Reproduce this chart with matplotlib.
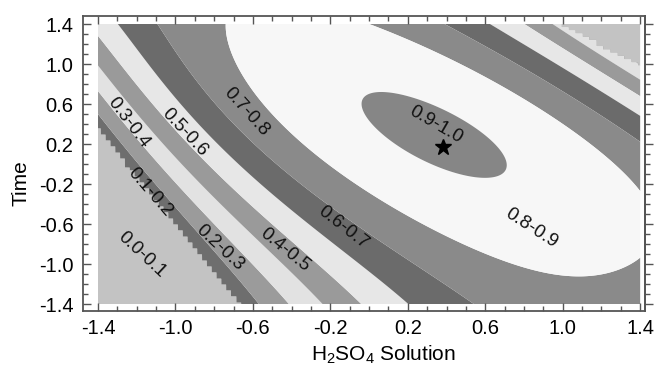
import numpy as np
import matplotlib
matplotlib.use("Agg")
import matplotlib.pyplot as plt

plt.rcParams['font.family'] = ['Liberation Sans', 'DejaVu Sans']
plt.rcParams['mathtext.default'] = 'regular'

# ---------------- data ----------------
levels = [0.0, 0.1, 0.2, 0.3, 0.4, 0.5, 0.6, 0.7, 0.8, 0.9, 1.0]
band_names = ["0.0-0.1", "0.1-0.2", "0.2-0.3", "0.3-0.4", "0.4-0.5",
              "0.5-0.6", "0.6-0.7", "0.7-0.8", "0.8-0.9", "0.9-1.0"]
band_colors = ["#c3c3c3", "#6e6e6e", "#9b9b9b", "#e2e2e2", "#9a9a9a",
               "#e7e7e7", "#6b6b6b", "#8a8a8a", "#f7f7f7", "#868686"]
tick_values = [-1.4, -1.0, -0.6, -0.2, 0.2, 0.6, 1.0, 1.4]
tick_labels = ["-1.4", "-1.0", "-0.6", "-0.2", "0.2", "0.6", "1.0", "1.4"]

# points on the band boundaries (x = H2SO4 solution, y = time)
c090_x = [0.088, 0.206, 0.294, 0.434, 0.552, 0.656, 0.697, 0.692, 0.640, 0.552, 0.434, 0.294, 0.155, 0.051, 0.041]
c090_y = [0.66, 0.67, 0.64, 0.54, 0.37, 0.17, -0.03, -0.16, -0.21, -0.16, -0.03, 0.14, 0.31, 0.47, 0.59]
c080_x = [-0.734, -0.703, -0.641, -0.553, -0.450, -0.357, -0.150, 0.057, 0.263, 0.470, 0.676, 0.883, 1.090, 1.270, 1.40,
          0.088, 0.294, 0.552, 0.811, 1.069, 1.276, 1.348, 1.40]
c080_y = [1.40, 1.14, 0.87, 0.64, 0.39, 0.16, -0.06, -0.28, -0.51, -0.74, -0.94, -1.08, -1.15, -1.12, -1.04,
          1.40, 1.24, 0.97, 0.64, 0.31, 0.04, -0.16, -0.46]
c070_x = [-1.069, -0.966, -0.847, -0.692, -0.537, -0.357, -0.093, 0.160, 0.418, 0.692, 0.382, 0.75, 1.10, 1.40]
c070_y = [1.40, 1.01, 0.64, 0.34, 0.07, -0.21, -0.53, -0.81, -1.08, -1.40, 1.40, 0.98, 0.55, 0.14]
c060_x = [-1.276, -1.08, -0.878, -0.677, -0.357, -0.124, 0.057, 0.578, 1.0, 1.40]
c060_y = [1.40, 0.89, 0.42, -0.06, -0.61, -1.06, -1.40, 1.40, 0.95, 0.52]
c050_x = [-1.40, -1.183, -0.925, -0.641, -0.367, -0.109, 0.744, 1.07, 1.40]
c050_y = [1.24, 0.69, 0.14, -0.44, -0.94, -1.40, 1.40, 1.02, 0.64]
c040_x = [-1.40, -1.235, -1.054, -0.760, -0.486, -0.227, 0.950, 1.17, 1.40]
c040_y = [0.97, 0.59, 0.14, -0.44, -0.94, -1.40, 1.40, 1.14, 0.87]
c030_x = [-1.40, -1.157, -0.883, -0.615, -0.367]
c030_y = [0.71, 0.14, -0.41, -0.93, -1.40]
c020_x = [-1.40, -1.245, -1.002, -0.744, -0.501]
c020_y = [0.51, 0.14, -0.36, -0.89, -1.40]
c013_x = [-1.40, -1.297, -0.987, -0.677]
c013_y = [0.39, 0.14, -0.66, -1.40]
spot_x = [0.37, -1.40, 1.40, 0.95, 1.40, 1.40, -1.40, -1.40, -0.20, 1.40]
spot_y = [0.22, 1.40, -1.40, -1.40, -1.25, 1.40, -1.40, -0.50, 0.90, -0.75]
spot_v = [0.935, 0.55, 0.74, 0.77, 0.77, 0.25, -0.30, -0.10, 0.85, 0.83]
cut_level = 0.13          # desirability falls to zero beyond this edge
corner_cut = 2.38         # x + y beyond which the upper-right corner is zero
optimum_x = [0.382]
optimum_y = [0.17]

# ---------------- build the response surface ----------------
px, py, pv, pw = [], [], [], []
for xs_, ys_, lv, wt in [(c090_x, c090_y, 0.9, 3.0), (c080_x, c080_y, 0.8, 1.5), (c070_x, c070_y, 0.7, 1.0),
                         (c060_x, c060_y, 0.6, 1.0), (c050_x, c050_y, 0.5, 1.0), (c040_x, c040_y, 0.4, 1.0),
                         (c030_x, c030_y, 0.3, 1.0), (c020_x, c020_y, 0.2, 1.0), (c013_x, c013_y, cut_level, 1.0)]:
    px += xs_; py += ys_; pv += [lv] * len(xs_); pw += [wt] * len(xs_)
px += spot_x; py += spot_y; pv += spot_v; pw += [3.0, 0.5, 0.7, 0.7, 0.7, 0.2, 0.2, 0.2, 0.7, 0.7]
px, py, pv, pw = map(np.asarray, (px, py, pv, pw))

DEG = 5
def design(x, y):
    return np.stack([x**i * y**j for i in range(DEG + 1) for j in range(DEG + 1 - i)], axis=-1)

coef, *_ = np.linalg.lstsq(design(px, py) * pw[:, None], pv * pw, rcond=None)

g = np.linspace(-1.4, 1.4, 901)
X, Y = np.meshgrid(g, g)
raw = design(X, Y) @ coef

def snap(a, step):
    return np.round((a + 1.4) / step) * step - 1.4

raw_s = design(snap(X, 0.025), snap(Y, 0.03)) @ coef
cut_low = (raw_s < cut_level) & (X + Y < 0)
cut_corner = (snap(X, 0.036) + snap(Y, 0.032)) > corner_cut
D = np.clip(np.where(cut_low | cut_corner, 0.03, raw), 0.001, 0.999)

# ---------------- draw ----------------
fig = plt.figure(figsize=(6.56, 3.66), dpi=100)
ax = fig.add_axes([83 / 656, 1 - 311 / 366, (645 - 83) / 656, (311 - 16) / 366])
ax.contourf(X, Y, D, levels=levels, colors=band_colors, antialiased=True)

label_pos = [(-1.173, -0.91, -43), (-1.131, -0.28, -49), (-0.770, -0.84, -43), (-1.245, 0.41, -53),
             (-0.434, -0.86, -39), (-0.951, 0.32, -47), (-0.134, -0.64, -38), (-0.636, 0.52, -48),
             (0.837, -0.64, -33), (0.346, 0.39, -30)]
for name, (lx, ly, rot) in zip(band_names, label_pos):
    ax.text(lx, ly, name, rotation=rot, rotation_mode='anchor', ha='center', va='center',
            fontsize=13.5, color='#111111')

ax.plot(optimum_x, optimum_y, marker='*', color='black', markersize=12, linestyle='none')

ax.set_xlim(-1.4775, 1.425)
ax.set_ylim(-1.47, 1.48)
ax.set_xticks(tick_values)
ax.set_xticklabels(tick_labels)
ax.set_yticks(tick_values)
ax.set_yticklabels(tick_labels)
minor = np.round(np.arange(-1.4, 1.41, 0.1), 2)
ax.set_xticks(minor, minor=True)
ax.set_yticks(minor, minor=True)
ax.tick_params(axis='x', which='both', direction='in', top=True, bottom=True, colors='#555555',
               labelcolor='black', labelsize=14.5, pad=6)
ax.tick_params(axis='y', which='both', direction='in', left=True, right=False, colors='#555555',
               labelcolor='black', labelsize=14.5, pad=7)
ax.tick_params(which='major', length=6, width=1.0)
ax.tick_params(which='minor', length=3.5, width=1.0)
for s in ax.spines.values():
    s.set_color('#555555')
    s.set_linewidth(1.3)

sec = ax.secondary_yaxis('right')
sec.set_yticks(tick_values)
sec.set_yticks(minor, minor=True)
sec.tick_params(which='both', direction='out', colors='#555555', labelright=False)
sec.tick_params(which='major', length=6, width=1.0)
sec.tick_params(which='minor', length=3.5, width=1.0)
sec.spines['right'].set_color('#555555')
sec.spines['right'].set_linewidth(1.3)

fig.text(383 / 656, 1 - 355 / 366, 'H$_2$SO$_4$ Solution', ha='center', va='center', fontsize=15)
fig.text(21 / 656, 1 - 183 / 366, 'Time', rotation=90, ha='center', va='center', fontsize=15)

fig.savefig('out.png', dpi=100)
